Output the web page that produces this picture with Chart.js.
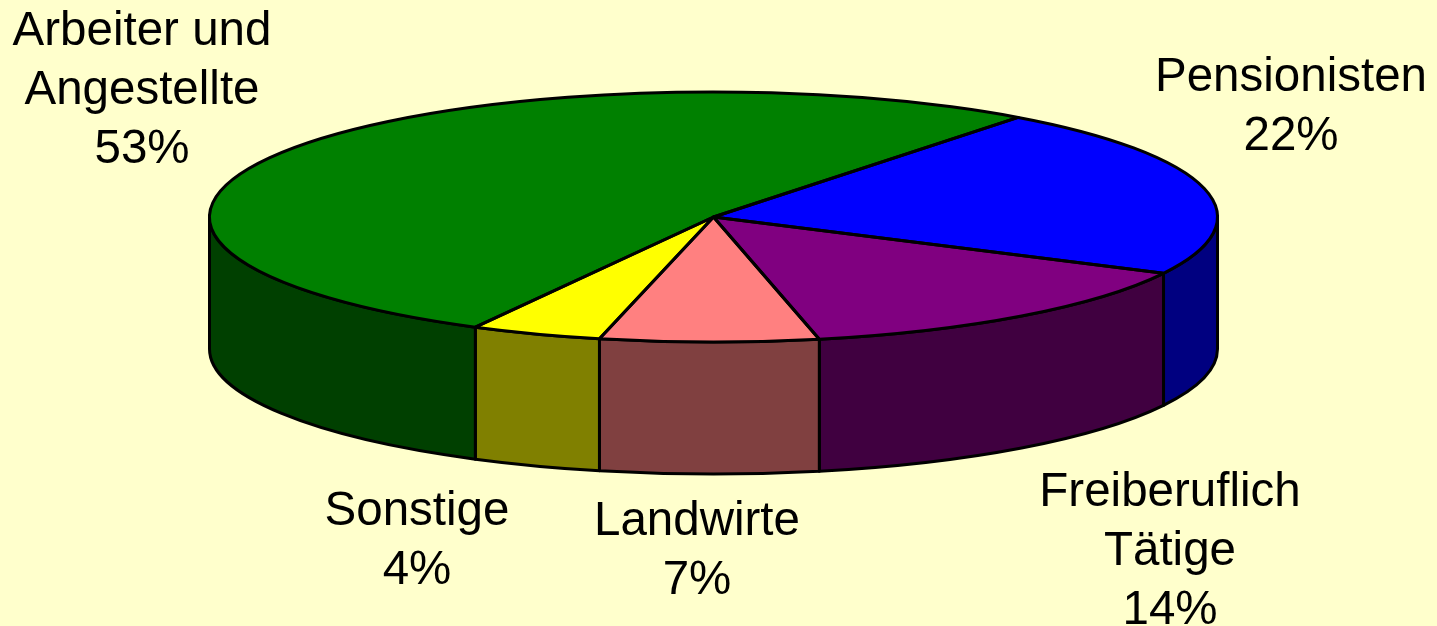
<!DOCTYPE html>
<html>
<head>
<meta charset="utf-8">
<title>Pie</title>
<script src="https://cdn.jsdelivr.net/npm/chart.js@4"></script>
<style>
  html, body { margin: 0; padding: 0; background: #ffffcc; overflow: hidden; }
  #wrap { position: relative; width: 1437px; height: 626px; }
</style>
</head>
<body>
<div id="wrap"><canvas id="chartPie" width="1437" height="626"></canvas></div>
<script>
// data, order is clockwise starting at Pensionisten
const categories = ["Pensionisten", "Freiberuflich Tätige", "Landwirte", "Sonstige", "Arbeiter und Angestellte"];
const shares = [22.1, 14.2, 7.0, 4.2, 52.5];
const percentLabels = ["22%", "14%", "7%", "4%", "53%"];
const topColors = ["#0000ff", "#800080", "#ff8080", "#ffff00", "#008000"];
const wallColors = ["#000080", "#400040", "#804040", "#808000", "#004000"];

// text lines and where they go: [center x, first baseline]
const labelLines = [["Pensionisten"], ["Freiberuflich", "Tätige"], ["Landwirte"], ["Sonstige"], ["Arbeiter und", "Angestellte"]];
const labelAnchors = [[1291, 91], [1170, 506], [697, 535], [417, 525], [142, 45]];
const lineHeight = 59;

// flattened pie geometry
const view = { cx: 713.5, cy: 217, rx: 504, ry: 125, depth: 132 };

function wallPath(ctx, a0, a1) {
  ctx.beginPath();
  ctx.ellipse(view.cx, view.cy, view.rx, view.ry, 0, a0, a1, false);
  ctx.ellipse(view.cx, view.cy + view.depth, view.rx, view.ry, 0, a1, a0, true);
  ctx.closePath();
}

const pie3d = {
  id: "pie3d",
  beforeDatasetsDraw(chart) {
    const ctx = chart.ctx;
    const arcs = chart.getDatasetMeta(0).data;
    ctx.save();
    ctx.strokeStyle = "#000";
    ctx.lineWidth = 3;
    ctx.lineJoin = "round";
    // side walls, only the part of each slice on the front half
    arcs.forEach((arc, i) => {
      for (const turn of [-2 * Math.PI, 0, 2 * Math.PI]) {
        const a0 = Math.max(arc.startAngle + turn, 0);
        const a1 = Math.min(arc.endAngle + turn, Math.PI);
        if (a1 <= a0) continue;
        wallPath(ctx, a0, a1);
        ctx.fillStyle = wallColors[i];
        ctx.fill();
        ctx.stroke();
      }
    });
    ctx.restore();
    // squash the library's own arcs into the top ellipse
    const first = arcs[0];
    ctx.save();
    ctx.translate(view.cx, view.cy);
    ctx.scale(view.rx / first.outerRadius, view.ry / first.outerRadius);
    ctx.translate(-first.x, -first.y);
  },
  afterDatasetsDraw(chart) {
    const ctx = chart.ctx;
    ctx.restore();
    const arcs = chart.getDatasetMeta(0).data;
    ctx.save();
    ctx.strokeStyle = "#000";
    ctx.lineWidth = 3;
    ctx.lineJoin = "round";
    arcs.forEach((arc) => {
      ctx.beginPath();
      ctx.moveTo(view.cx, view.cy);
      ctx.ellipse(view.cx, view.cy, view.rx, view.ry, 0, arc.startAngle, arc.endAngle, false);
      ctx.closePath();
      ctx.stroke();
    });
    // labels
    ctx.fillStyle = "#000";
    ctx.font = '47.5px "Liberation Sans", Arial, sans-serif';
    ctx.textAlign = "center";
    ctx.textBaseline = "alphabetic";
    categories.forEach((c, i) => {
      const lines = labelLines[i].concat(percentLabels[i]);
      lines.forEach((line, n) => {
        ctx.fillText(line, labelAnchors[i][0], labelAnchors[i][1] + n * lineHeight);
      });
    });
    ctx.restore();
  }
};

document.addEventListener("DOMContentLoaded", () => {
  new Chart(document.getElementById("chartPie"), {
    type: "pie",
    data: {
      labels: categories,
      datasets: [{
        data: shares,
        backgroundColor: topColors,
        borderWidth: 0
      }]
    },
    options: {
      responsive: false,
      animation: false,
      rotation: 37.2,
      plugins: { legend: { display: false }, tooltip: { enabled: false } }
    },
    plugins: [pie3d]
  });
});
</script>
</body>
</html>
